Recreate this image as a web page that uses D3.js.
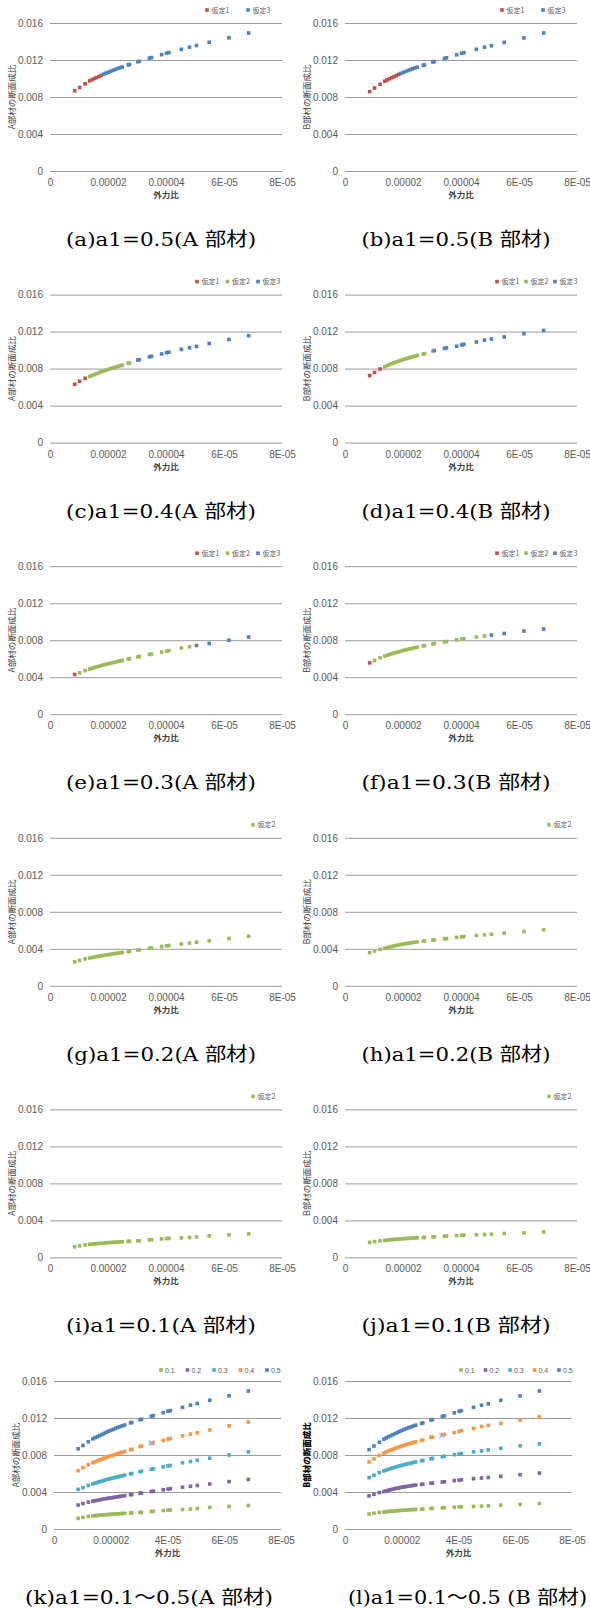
<!DOCTYPE html>
<html lang="ja">
<head>
<meta charset="UTF-8">
<title>断面成比</title>
<script src="https://d3js.org/d3.v7.min.js"></script>
<style>
  body { margin: 0; background: #fff; }
  .cap { font-family: "DejaVu Serif", "Noto Sans CJK JP", serif; }
</style>
</head>
<body>
<svg id="chart" width="590" height="1611"></svg>
<script>
// 外力比 (shared x of every series)
const gairyokuHi = [0.85e-5, 1.02e-5, 1.21e-5, 1.37e-5, 1.45e-5, 1.53e-5, 1.61e-5, 1.69e-5, 1.77e-5, 1.85e-5,
  1.93e-5, 2.01e-5, 2.09e-5, 2.17e-5, 2.25e-5, 2.33e-5, 2.41e-5, 2.49e-5, 2.70e-5, 2.74e-5,
  3.03e-5, 3.08e-5, 3.43e-5, 3.50e-5, 3.85e-5, 4.02e-5, 4.10e-5, 4.53e-5, 4.81e-5, 5.05e-5,
  5.49e-5, 6.17e-5, 6.85e-5];

// 断面成比, A部材
const yA01 = [0.00115,0.00125,0.00136,0.00141,0.00144,0.00147,0.00149,0.00151,0.00153,0.00155,0.00157,0.00159,0.00161,0.00163,0.00164,0.00166,0.00168,0.00169,0.00173,0.00174,0.00179,0.00180,0.00189,0.00191,0.00200,0.00204,0.00205,0.00211,0.00216,0.00222,0.00233,0.00244,0.00254];
const yA02 = [0.00259,0.00275,0.00291,0.00301,0.00306,0.00311,0.00316,0.00321,0.00325,0.00329,0.00333,0.00337,0.00341,0.00345,0.00349,0.00353,0.00357,0.00361,0.00371,0.00373,0.00387,0.00389,0.00405,0.00408,0.00424,0.00432,0.00436,0.00452,0.00462,0.00471,0.00486,0.00512,0.00536];
const yA03 = [0.00429,0.00447,0.00471,0.00488,0.00496,0.00504,0.00512,0.00519,0.00526,0.00533,0.00540,0.00546,0.00552,0.00558,0.00564,0.00570,0.00576,0.00582,0.00597,0.00600,0.00620,0.00624,0.00646,0.00650,0.00672,0.00682,0.00687,0.00716,0.00730,0.00743,0.00765,0.00800,0.00834];
const yA04 = [0.00630,0.00663,0.00695,0.00716,0.00726,0.00736,0.00746,0.00756,0.00765,0.00774,0.00783,0.00791,0.00799,0.00807,0.00815,0.00823,0.00831,0.00838,0.00857,0.00861,0.00892,0.00897,0.00927,0.00933,0.00958,0.00972,0.00978,0.01008,0.01026,0.01040,0.01071,0.01115,0.01156];
const yA05 = [0.00867,0.00903,0.00943,0.00975,0.00988,0.00999,0.01010,0.01022,0.01034,0.01047,0.01058,0.01068,0.01078,0.01088,0.01098,0.01107,0.01116,0.01124,0.01148,0.01152,0.01181,0.01186,0.01220,0.01226,0.01258,0.01274,0.01280,0.01316,0.01339,0.01357,0.01392,0.01440,0.01492];

// 断面成比, B部材
const yB01 = [0.00162,0.00171,0.00179,0.00184,0.00187,0.00190,0.00192,0.00194,0.00196,0.00198,0.00200,0.00202,0.00204,0.00205,0.00207,0.00209,0.00210,0.00212,0.00215,0.00216,0.00222,0.00223,0.00229,0.00231,0.00236,0.00239,0.00240,0.00244,0.00247,0.00251,0.00258,0.00265,0.00276];
const yB02 = [0.00358,0.00376,0.00394,0.00405,0.00412,0.00419,0.00425,0.00431,0.00437,0.00442,0.00447,0.00452,0.00456,0.00460,0.00464,0.00468,0.00472,0.00475,0.00482,0.00484,0.00494,0.00496,0.00508,0.00511,0.00523,0.00529,0.00532,0.00544,0.00551,0.00557,0.00569,0.00587,0.00605];
const yB03 = [0.00555,0.00581,0.00610,0.00628,0.00637,0.00645,0.00653,0.00661,0.00668,0.00675,0.00682,0.00689,0.00695,0.00701,0.00707,0.00713,0.00719,0.00725,0.00738,0.00741,0.00760,0.00763,0.00782,0.00786,0.00804,0.00812,0.00816,0.00834,0.00845,0.00855,0.00872,0.00899,0.00920];
const yB04 = [0.00725,0.00758,0.00796,0.00820,0.00832,0.00843,0.00853,0.00863,0.00872,0.00881,0.00890,0.00898,0.00906,0.00914,0.00921,0.00928,0.00935,0.00942,0.00958,0.00962,0.00990,0.00995,0.01018,0.01024,0.01042,0.01056,0.01063,0.01088,0.01108,0.01120,0.01142,0.01178,0.01213];
const yB05 = [0.00858,0.00897,0.00938,0.00970,0.00984,0.00996,0.01008,0.01020,0.01032,0.01044,0.01055,0.01066,0.01076,0.01086,0.01096,0.01105,0.01114,0.01122,0.01142,0.01147,0.01178,0.01183,0.01217,0.01224,0.01256,0.01272,0.01279,0.01316,0.01338,0.01354,0.01391,0.01439,0.01492];

// stray "x" point in (k) and (l)
const strayA = [3.43e-5, 0.0093];
const strayB = [3.41e-5, 0.0101];

// 仮定 of each point: [仮定, first index, last index]
const kateiA05 = [[1, 0, 8], [3, 9, 32]];
const kateiB05 = [[1, 0, 9], [3, 10, 32]];
const kateiA04 = [[1, 0, 2], [2, 3, 19], [3, 20, 32]];
const kateiB04 = [[1, 0, 2], [2, 3, 20], [3, 21, 32]];
const kateiA03 = [[1, 0, 0], [2, 1, 28], [3, 29, 32]];
const kateiB03 = [[1, 0, 0], [2, 1, 28], [3, 29, 32]];
const kateiAll2 = [[2, 0, 32]];

const yTickVals = [0, 0.004, 0.008, 0.012, 0.016];
const yTickLabels = ["0", "0.004", "0.008", "0.012", "0.016"];
const xTickVals = [0, 2e-5, 4e-5, 6e-5, 8e-5];
const xTickLabels = ["0", "0.00002", "0.00004", "6E-05", "8E-05"];
const xTickLabelsKL = ["0", "0.00002", "4E-05", "6E-05", "8E-05"];
const a1List = ["0.1", "0.2", "0.3", "0.4", "0.5"];

const kateiColor = {1: "#c0504d", 2: "#9bbb59", 3: "#4f81bd"};
const a1Color = ["#9bbb59", "#8064a2", "#4bacc6", "#f79646", "#4f81bd"];

const svg = d3.select("#chart");
const ROW0 = 23, ROW_STEP = 271.6, PLOT_H = 148;
const LEFT = [50, 282], RIGHT = [345, 577];

const panels = [
  {cap: "(a)a1=0.5(A 部材)", row: 0, xr: LEFT, m: "A", ys: yA05, katei: kateiA05, lx: 207, ls: 41, lw: 190},
  {cap: "(b)a1=0.5(B 部材)", row: 0, xr: RIGHT, m: "B", ys: yB05, katei: kateiB05, lx: 502, ls: 41, lw: 189},
  {cap: "(c)a1=0.4(A 部材)", row: 1, xr: LEFT, m: "A", ys: yA04, katei: kateiA04, lx: 197, ls: 30.5, lw: 190},
  {cap: "(d)a1=0.4(B 部材)", row: 1, xr: RIGHT, m: "B", ys: yB04, katei: kateiB04, lx: 497, ls: 29, lw: 189},
  {cap: "(e)a1=0.3(A 部材)", row: 2, xr: LEFT, m: "A", ys: yA03, katei: kateiA03, lx: 197, ls: 30.5, lw: 190},
  {cap: "(f)a1=0.3(B 部材)", row: 2, xr: RIGHT, m: "B", ys: yB03, katei: kateiB03, lx: 497, ls: 29, lw: 189},
  {cap: "(g)a1=0.2(A 部材)", row: 3, xr: LEFT, m: "A", ys: yA02, katei: kateiAll2, lx: 253, ls: 30, lw: 190},
  {cap: "(h)a1=0.2(B 部材)", row: 3, xr: RIGHT, m: "B", ys: yB02, katei: kateiAll2, lx: 549, ls: 30, lw: 189},
  {cap: "(i)a1=0.1(A 部材)", row: 4, xr: LEFT, m: "A", ys: yA01, katei: kateiAll2, lx: 253, ls: 30, lw: 190},
  {cap: "(j)a1=0.1(B 部材)", row: 4, xr: RIGHT, m: "B", ys: yB01, katei: kateiAll2, lx: 549, ls: 30, lw: 189}
];

function frame(row, xr, m, xLabels, titleX, boldTitle) {
  const top = ROW0 + row * ROW_STEP;
  const x = d3.scaleLinear().domain([0, 8e-5]).range(xr);
  const y = d3.scaleLinear().domain([0, 0.016]).range([top + PLOT_H, top]);
  const g = svg.append("g");

  g.append("g")
    .attr("transform", `translate(${xr[0]},0)`)
    .attr("font-family", "Liberation Sans, sans-serif")
    .attr("font-size", 7)
    .call(d3.axisLeft(y).tickValues(yTickVals).tickSize(-(xr[1] - xr[0])).tickPadding(7)
      .tickFormat((d, i) => yTickLabels[i]))
    .call(a => a.select(".domain").remove())
    .call(a => a.selectAll("line").attr("stroke", "#9a9a9a"))
    .call(a => a.selectAll("text").attr("fill", "#595959"));

  g.append("g")
    .attr("transform", `translate(0,${top + PLOT_H})`)
    .attr("font-family", "Liberation Sans, sans-serif")
    .attr("font-size", 7)
    .call(d3.axisBottom(x).tickValues(xTickVals).tickSize(0).tickPadding(8)
      .tickFormat((d, i) => xLabels[i]))
    .call(a => a.select(".domain").remove())
    .call(a => a.selectAll("text").attr("fill", "#595959"));

  // axis titles
  g.append("text")
    .attr("x", (xr[0] + xr[1]) / 2)
    .attr("y", top + PLOT_H + 27)
    .attr("text-anchor", "middle")
    .attr("font-family", "Noto Sans CJK JP, sans-serif")
    .attr("font-size", 8.5)
    .attr("font-weight", "bold")
    .attr("fill", "#404040")
    .text("外力比");

  g.append("text")
    .attr("transform", `translate(${titleX},${top + PLOT_H / 2}) rotate(-90)`)
    .attr("text-anchor", "middle")
    .attr("font-family", "Noto Sans CJK JP, sans-serif")
    .attr("font-size", 8.5)
    .attr("font-weight", boldTitle ? "900" : "normal")
    .attr("fill", boldTitle ? "#000" : "#404040")
    .text(m + "部材の断面成比");

  return {g, x, y, top};
}

function square(sel, x, y, color) {
  sel.append("rect")
    .attr("x", x - 1.8).attr("y", y - 1.8)
    .attr("width", 3.6).attr("height", 3.6)
    .attr("fill", color);
}

function caption(text, cx, top, width, anchorStart) {
  svg.append("text")
    .attr("class", "cap")
    .attr("x", cx)
    .attr("y", top + 223)
    .attr("text-anchor", anchorStart ? "start" : "middle")
    .attr("font-size", 19)
    .attr("textLength", width)
    .attr("lengthAdjust", "spacingAndGlyphs")
    .text(text);
}

// (a) - (j)
panels.forEach(p => {
  const {g, x, y, top} = frame(p.row, p.xr, p.m, xTickLabels, p.xr[0] - 35, false);

  p.katei.forEach(([k, i0, i1]) => {
    g.append("g").selectAll("rect")
      .data(d3.range(i0, i1 + 1))
      .join("rect")
      .attr("x", i => x(gairyokuHi[i]) - 1.8)
      .attr("y", i => y(p.ys[i]) - 1.8)
      .attr("width", 3.6).attr("height", 3.6)
      .attr("fill", kateiColor[k]);
  });

  // legend
  const leg = g.append("g").attr("font-family", "Noto Sans CJK JP, sans-serif").attr("font-size", 7);
  p.katei.forEach(([k], j) => {
    const lx = p.lx + j * p.ls, ly = top - 13;
    square(leg, lx, ly, kateiColor[k]);
    leg.append("text").attr("x", lx + 4.5).attr("y", ly + 2.5).attr("fill", "#595959").text("仮定" + k);
  });

  caption(p.cap, (p.xr[0] + p.xr[1]) / 2 - 5, top, p.lw, false);
});

// (k) and (l): all a1 together
const klPanels = [
  {cap: "(k)a1=0.1～0.5(A 部材)", xr: [54, 281], m: "A", sets: [yA01, yA02, yA03, yA04, yA05], stray: strayA, lx: 161, ls: 26.5, capX: 25, capW: 248, bold: false},
  {cap: "(l)a1=0.1～0.5 (B 部材)", xr: [345, 572], m: "B", sets: [yB01, yB02, yB03, yB04, yB05], stray: strayB, lx: 461, ls: 24.5, capX: 348, capW: 239, bold: true}
];

klPanels.forEach(p => {
  const {g, x, y, top} = frame(5, p.xr, p.m, xTickLabelsKL, p.xr[0] - 35, p.bold);

  p.sets.forEach((ys, s) => {
    g.append("g").selectAll("rect")
      .data(ys)
      .join("rect")
      .attr("x", (d, i) => x(gairyokuHi[i]) - 1.8)
      .attr("y", d => y(d) - 1.8)
      .attr("width", 3.6).attr("height", 3.6)
      .attr("fill", a1Color[s]);
  });

  const sx = x(p.stray[0]), sy = y(p.stray[1]);
  g.append("path")
    .attr("d", `M${sx - 2.5},${sy - 2.5}L${sx + 2.5},${sy + 2.5}M${sx - 2.5},${sy + 2.5}L${sx + 2.5},${sy - 2.5}`)
    .attr("stroke", "#9fb1d8").attr("stroke-width", 1.2);

  const leg = g.append("g").attr("font-family", "Liberation Sans, sans-serif").attr("font-size", 7);
  a1List.forEach((name, j) => {
    const lx = p.lx + j * p.ls, ly = top - 11;
    square(leg, lx, ly, a1Color[j]);
    leg.append("text").attr("x", lx + 4).attr("y", ly + 2.5).attr("fill", "#595959").text(name);
  });

  caption(p.cap, p.capX, top, p.capW, true);
});
</script>
</body>
</html>
